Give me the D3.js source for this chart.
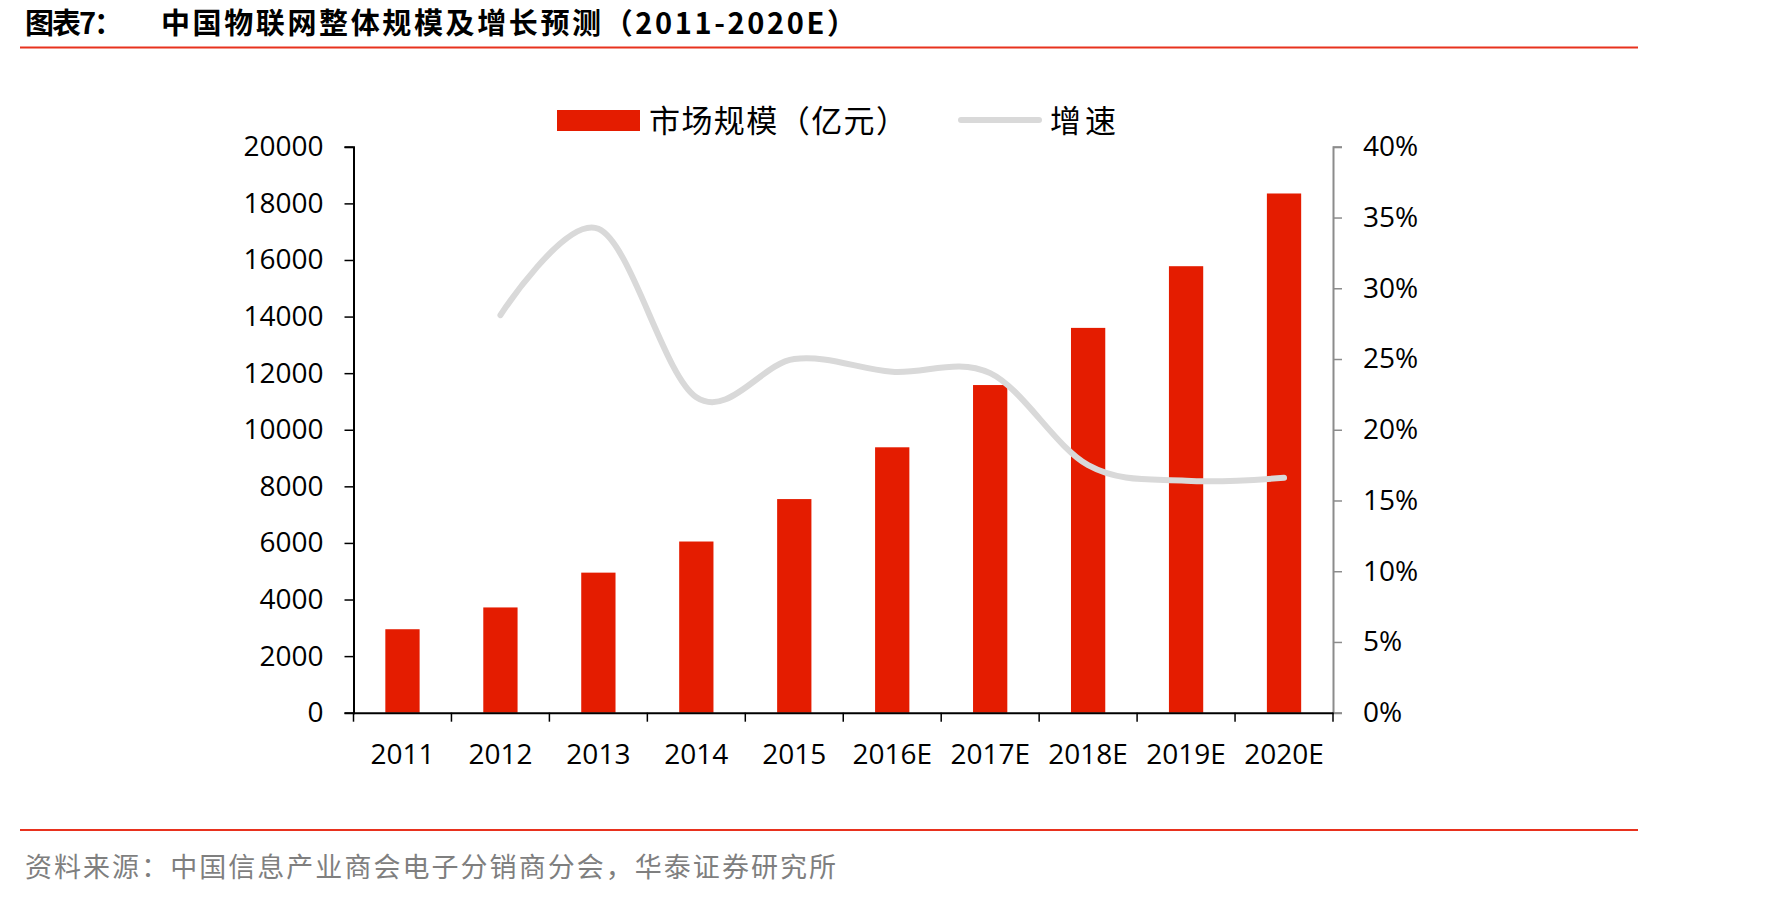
<!DOCTYPE html>
<html lang="zh">
<head>
<meta charset="UTF-8">
<title>中国物联网整体规模及增长预测</title>
<style>
  body { margin: 0; background: #fff; }
  svg { display: block; }
  .tick text { font-family: "Open Sans", sans-serif; font-size: 28px; fill: #000; }
</style>
</head>
<body>
<svg width="1771" height="897"></svg>
<script src="https://d3js.org/d3.v7.min.js"></script>
<script>
    // data
    var years = ["2011", "2012", "2013", "2014", "2015", "2016E", "2017E", "2018E", "2019E", "2020E"];
    var market = [2950, 3720, 4950, 6050, 7550, 9380, 11580, 13600, 15780, 18350];
    var growth = [null, 28.1, 34.2, 22.3, 25.0, 24.1, 24.0, 17.5, 16.4, 16.6];
    var leftTicks = [0, 2000, 4000, 6000, 8000, 10000, 12000, 14000, 16000, 18000, 20000];
    var rightTicks = [0, 5, 10, 15, 20, 25, 30, 35, 40];

    var svg = d3.select("svg");
    const cjk = '"Noto Sans CJK SC", sans-serif';

    var x0 = 353.5, x1 = 1333, yTop = 146.8, yBot = 712.7;

    var x = d3.scaleBand().domain(years).range([x0, x1]).paddingInner(0.65).paddingOuter(0.325);
    var xEdge = d3.scaleBand().domain(years).range([x0, x1]);
    var y = d3.scaleLinear().domain([0, 20000]).range([yBot, yTop]);
    var y2 = d3.scaleLinear().domain([0, 40]).range([yBot, yTop]);

    // title
    var title = svg.append("text")
        .attr("y", 34)
        .style("font-family", cjk)
        .style("font-weight", "bold")
        .style("font-size", "29px")
        .attr("fill", "#000");
    title.append("tspan").attr("x", 25).attr("textLength", 98).text("图表7：");
    title.append("tspan").attr("x", 161).attr("textLength", 695).text("中国物联网整体规模及增长预测（2011-2020E）");

    svg.append("line")
        .attr("x1", 20).attr("x2", 1638).attr("y1", 47.5).attr("y2", 47.5)
        .attr("stroke", "#e8321e").attr("stroke-width", 2);

    // legend
    svg.append("rect")
        .attr("x", 557).attr("y", 110).attr("width", 83).attr("height", 21)
        .attr("fill", "#e41c00");
    svg.append("text")
        .attr("x", 649).attr("y", 132)
        .attr("textLength", 258)
        .style("font-family", cjk).style("font-size", "31px")
        .text("市场规模（亿元）");
    svg.append("line")
        .attr("x1", 961).attr("x2", 1039).attr("y1", 120).attr("y2", 120)
        .attr("stroke", "#d9d9d9").attr("stroke-width", 6).attr("stroke-linecap", "round");
    svg.append("text")
        .attr("x", 1050).attr("y", 132)
        .attr("textLength", 66)
        .style("font-family", cjk).style("font-size", "31px")
        .text("增速");

    // bars
    svg.append("g").selectAll("rect")
        .data(years)
        .join("rect")
        .attr("x", d => x(d))
        .attr("width", x.bandwidth())
        .attr("y", (d, i) => y(market[i]))
        .attr("height", (d, i) => yBot - y(market[i]))
        .attr("fill", "#e41c00");

    // left axis
    var gl = svg.append("g")
        .attr("transform", "translate(" + x0 + ",0)")
        .call(d3.axisLeft(y).tickValues(leftTicks).tickSize(9).tickPadding(21).tickFormat(d3.format("d")));
    gl.select(".domain").attr("stroke", "#000").attr("stroke-width", 2);
    gl.selectAll(".tick line").attr("stroke", "#000").attr("stroke-width", 1.5);

    // right axis
    var gr = svg.append("g")
        .attr("transform", "translate(" + x1 + ",0)")
        .call(d3.axisRight(y2).tickValues(rightTicks).tickSize(9).tickPadding(21).tickFormat(d => d + "%"));
    gr.select(".domain").attr("stroke", "#8c8c8c").attr("stroke-width", 2);
    gr.selectAll(".tick line").attr("stroke", "#8c8c8c").attr("stroke-width", 1.5);

    // bottom axis, ticks sit on the category edges
    var gb = svg.append("g")
        .attr("transform", "translate(0," + yBot + ")")
        .call(d3.axisBottom(xEdge).tickSize(0).tickPadding(31));
    gb.select(".domain").attr("stroke", "#000").attr("stroke-width", 2);
    gb.append("g").selectAll("line")
        .data(years.concat(["end"]))
        .join("line")
        .attr("x1", (d, i) => i < years.length ? xEdge(d) : x1)
        .attr("x2", (d, i) => i < years.length ? xEdge(d) : x1)
        .attr("y1", 0).attr("y2", 9)
        .attr("stroke", "#000").attr("stroke-width", 1.5);

    // growth line
    var pts = years.map((d, i) => ({ k: d, v: growth[i] })).filter(p => p.v !== null);
    var line = d3.line()
        .x(p => x(p.k) + x.bandwidth() / 2)
        .y(p => y2(p.v))
        .curve(d3.curveCardinal.tension(0));
    svg.append("path")
        .datum(pts)
        .attr("d", line)
        .attr("fill", "none")
        .attr("stroke", "#d9d9d9")
        .attr("stroke-width", 6)
        .attr("stroke-linecap", "round");

    // source
    svg.append("line")
        .attr("x1", 20).attr("x2", 1638).attr("y1", 830).attr("y2", 830)
        .attr("stroke", "#e8321e").attr("stroke-width", 2);
    svg.append("text")
        .attr("x", 25).attr("y", 877)
        .attr("textLength", 811)
        .style("font-family", cjk).style("font-size", "27px")
        .attr("fill", "#7f7f7f")
        .text("资料来源：中国信息产业商会电子分销商分会，华泰证券研究所");
</script>
</body>
</html>
